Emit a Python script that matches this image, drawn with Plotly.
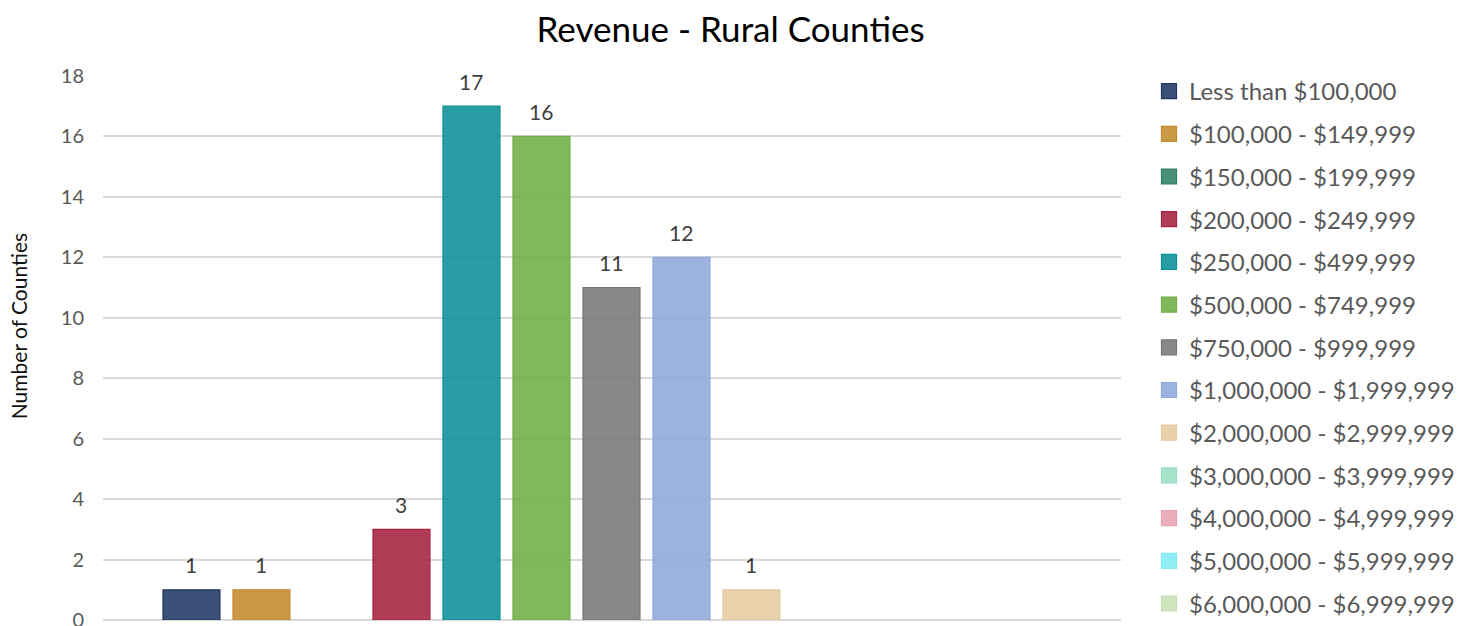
import plotly.graph_objects as go

# Revenue bands (one bar per band) and the number of rural counties in each
bands = [
    "Less than $100,000",
    "$100,000 - $149,999",
    "$150,000 - $199,999",
    "$200,000 - $249,999",
    "$250,000 - $499,999",
    "$500,000 - $749,999",
    "$750,000 - $999,999",
    "$1,000,000 - $1,999,999",
    "$2,000,000 - $2,999,999",
    "$3,000,000 - $3,999,999",
    "$4,000,000 - $4,999,999",
    "$5,000,000 - $5,999,999",
    "$6,000,000 - $6,999,999",
]
counties = [1, 1, None, 3, 17, 16, 11, 12, 1, None, None, None, None]

band_colors = [
    "#1F3864", "#C38A2C", "#2E8065", "#A5213F", "#0A9098", "#70AD47",
    "#777777", "#8EA9DB", "#E6CBA0", "#9ADDC3", "#E8A3B0", "#7FEDF2",
    "#C6E0B4",
]

y_ticks = list(range(0, 19, 2))

FONT = "Lato"


def rgba(hex_color, alpha):
    h = hex_color.lstrip("#")
    r, g, b = int(h[0:2], 16), int(h[2:4], 16), int(h[4:6], 16)
    return f"rgba({r},{g},{b},{alpha})"


fig = go.Figure()

for i, (band, val, col) in enumerate(zip(bands, counties, band_colors)):
    fig.add_trace(
        go.Bar(
            x=[band],
            y=[val],
            name=band,
            legendgroup=f"g{i}",
            showlegend=False,
            marker=dict(color=rgba(col, 0.88), line=dict(color=col, width=1.2)),
            hoverinfo="name+y",
        )
    )
    # larger square key for the legend entry of this band
    fig.add_trace(
        go.Scatter(
            x=[None],
            y=[None],
            mode="markers",
            name=band,
            legendgroup=f"g{i}",
            marker=dict(symbol="square", size=15, color=rgba(col, 0.88),
                        line=dict(color=col, width=1.2)),
            hoverinfo="skip",
        )
    )
    if val is not None:
        fig.add_annotation(
            x=band, y=val, text=str(val), showarrow=False,
            yshift=25, yanchor="middle",
            font=dict(family=FONT, size=21, color="#404040"),
        )

# y-axis title placed as a rotated annotation
fig.add_annotation(
    xref="paper", yref="paper", x=-0.0835, y=0.54,
    text="Number of Counties", textangle=-90, showarrow=False,
    xanchor="center", yanchor="middle",
    font=dict(family=FONT, size=21, color="#111111"),
)

fig.update_layout(
    width=1467,
    height=626,
    margin=dict(l=103, r=346, t=76, b=6, autoexpand=False),
    paper_bgcolor="white",
    plot_bgcolor="white",
    barmode="relative",
    bargap=0.186,
    title=dict(
        text="Revenue - Rural Counties",
        x=0.498, xref="container", xanchor="center",
        y=1 - 30 / 626, yref="container", yanchor="middle",
        font=dict(family=FONT, size=35, color="#000000"),
    ),
    legend=dict(
        x=1149 / 1467, xref="container", xanchor="left",
        y=1 - 69 / 626, yref="container", yanchor="top",
        font=dict(family=FONT, size=24, color="#595959"),
        tracegroupgap=8.5,
        maxheight=1,
        bgcolor="rgba(0,0,0,0)",
    ),
    showlegend=True,
)

fig.update_xaxes(
    type="category",
    categoryorder="array",
    categoryarray=bands,
    range=[-1.264, 13.279],
    showticklabels=False,
    showgrid=False,
    showline=False,
    zeroline=False,
    ticks="",
)

fig.update_yaxes(
    range=[0, 18],
    tickvals=y_ticks,
    showgrid=True,
    gridcolor="#D9D9D9",
    gridwidth=1.5,
    zeroline=True,
    zerolinecolor="#D9D9D9",
    zerolinewidth=1.5,
    showline=False,
    ticks="",
    automargin=False,
    ticklabelstandoff=18,
    ticklabeloverflow="allow",
    tickfont=dict(family=FONT, size=20, color="#595959"),
)

fig.write_html("out.html")
